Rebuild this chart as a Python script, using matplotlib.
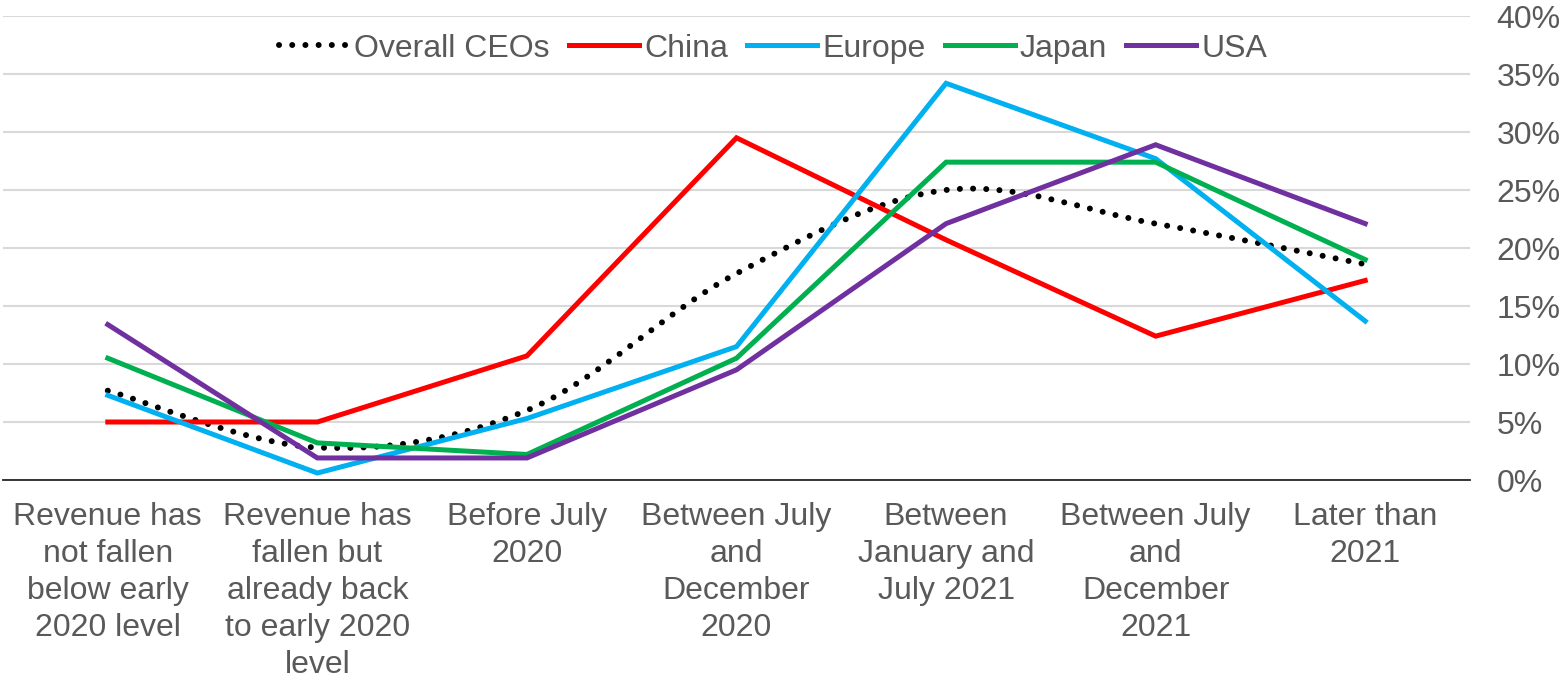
#CEO expectations: when revenue returns to early 2020 level
import matplotlib
matplotlib.use('Agg')
import matplotlib.pyplot as plt
from matplotlib.path import Path
from matplotlib.patches import PathPatch
from matplotlib.lines import Line2D
from matplotlib.ticker import FuncFormatter

plt.rcParams['font.family'] = ['Liberation Sans', 'DejaVu Sans']

categories = ['Revenue has\nnot fallen\nbelow early\n2020 level',
              'Revenue has\nfallen but\nalready back\nto early 2020\nlevel',
              'Before July\n2020',
              'Between July\nand\nDecember\n2020',
              'Between\nJanuary and\nJuly 2021',
              'Between July\nand\nDecember\n2021',
              'Later than\n2021']

overall = [0.077, 0.028, 0.060, 0.178, 0.250, 0.221, 0.186]
china = [0.050, 0.050, 0.107, 0.295, 0.207, 0.124, 0.172]
europe = [0.073, 0.006, 0.053, 0.115, 0.342, 0.277, 0.137]
japan = [0.105, 0.032, 0.022, 0.105, 0.274, 0.274, 0.190]
usa = [0.134, 0.019, 0.019, 0.095, 0.221, 0.289, 0.221]

series = [('China', china, '#FF0000'),
          ('Europe', europe, '#00B0F0'),
          ('Japan', japan, '#00B050'),
          ('USA', usa, '#7030A0')]

txt = '#595959'
fs = 23

#smooth curve like excel (bezier through the points)
def smooth_path(xs, ys):
    n = len(xs)
    verts = [(xs[0], ys[0])]
    codes = [Path.MOVETO]
    for i in range(n - 1):
        x0, y0 = xs[max(i - 1, 0)], ys[max(i - 1, 0)]
        x1, y1 = xs[i], ys[i]
        x2, y2 = xs[i + 1], ys[i + 1]
        x3, y3 = xs[min(i + 2, n - 1)], ys[min(i + 2, n - 1)]
        c1 = (x1 + (x2 - x0) / 6.0, y1 + (y2 - y0) / 6.0)
        c2 = (x2 - (x3 - x1) / 6.0, y2 - (y3 - y1) / 6.0)
        verts += [c1, c2, (x2, y2)]
        codes += [Path.CURVE4] * 3
    return Path(verts, codes)

fig = plt.figure(figsize=(15.64, 6.8), dpi=100)
ax = fig.add_axes([3.0 / 1564, 200.0 / 680, 1467.0 / 1564, 464.0 / 680])

x = list(range(len(categories)))
dots = (0, (0.01, 2.2))

patch = PathPatch(smooth_path(x, overall), facecolor='none', edgecolor='black',
                  lw=4.3, linestyle=dots, capstyle='round', zorder=3)
ax.add_patch(patch)

for name, vals, col in series:
    ax.plot(x, vals, color=col, lw=3.6, solid_joinstyle='miter', zorder=3)

ax.set_xlim(-0.5, 6.5)
ax.set_ylim(0, 0.40)
ax.set_yticks([i * 0.05 for i in range(9)])
ax.yaxis.set_major_formatter(FuncFormatter(lambda v, p: '{:.0f}%'.format(v * 100)))
ax.yaxis.tick_right()
ax.tick_params(axis='y', length=0, pad=19, labelsize=fs, labelcolor=txt)
ax.set_xticks(x)
ax.set_xticklabels(categories, linespacing=1.3)
ax.tick_params(axis='x', length=0, pad=16, labelsize=fs, labelcolor=txt)

ax.grid(axis='y', color='#D9D9D9', lw=1.5)
ax.set_axisbelow(True)
for s in ['top', 'left', 'right']:
    ax.spines[s].set_visible(False)
ax.spines['bottom'].set_color('#262626')
ax.spines['bottom'].set_linewidth(1.3)
ax.spines['bottom'].set_zorder(2)

handles = [Line2D([], [], color='black', lw=4.3, linestyle=dots, dash_capstyle='round')]
labels = ['Overall CEOs']
for name, vals, col in series:
    handles.append(Line2D([], [], color=col, lw=3.6))
    labels.append(name)
leg = ax.legend(handles, labels, loc='upper center', bbox_to_anchor=(0.525, 1.0),
                ncol=5, frameon=False, fontsize=fs, handlelength=2.2,
                handletextpad=0.15, columnspacing=0.6, borderaxespad=0.15)
for t in leg.get_texts():
    t.set_color(txt)

plt.savefig('out.png', dpi=100)
